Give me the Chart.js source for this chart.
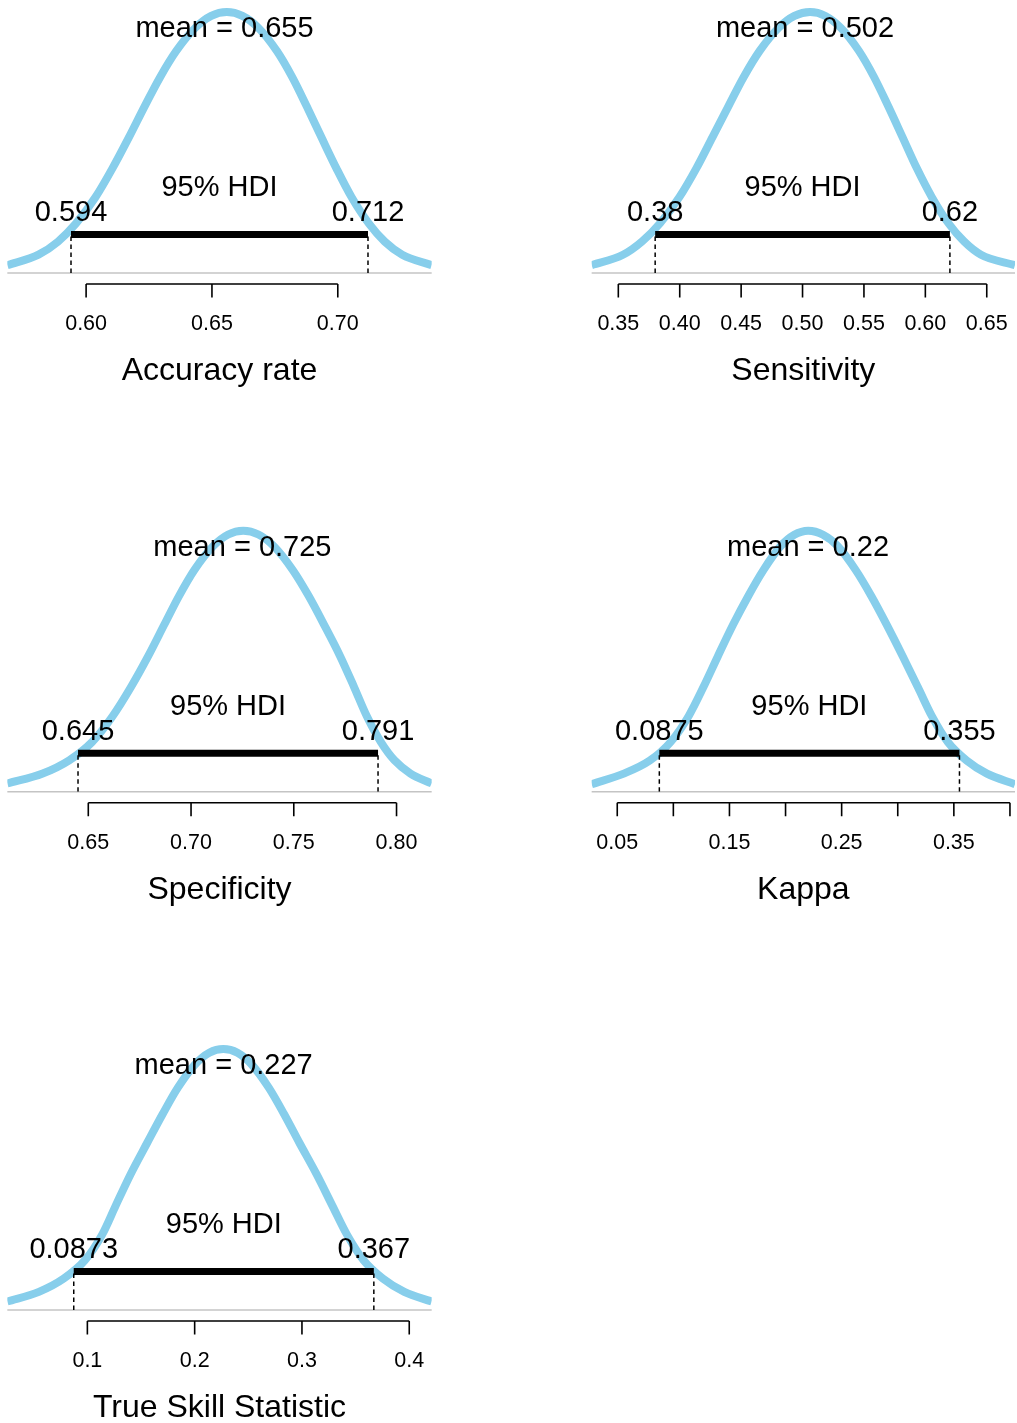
<!DOCTYPE html>
<html>
<head>
<meta charset="utf-8">
<title>Posterior distributions</title>
<script src="https://cdn.jsdelivr.net/npm/chart.js@4.4.1/dist/chart.umd.min.js"></script>
<style>
  body { margin: 0; background: #fff; width: 1017px; height: 1423px; position: relative; overflow: hidden; }
  canvas { position: absolute; }
</style>
</head>
<body>
<canvas id="accuracyChart"></canvas>
<canvas id="sensitivityChart"></canvas>
<canvas id="specificityChart"></canvas>
<canvas id="kappaChart"></canvas>
<canvas id="tssChart"></canvas>
<script>
// Panel order: accuracy, sensitivity, specificity, kappa, TSS
const titles = ['Accuracy rate', 'Sensitivity', 'Specificity', 'Kappa', 'True Skill Statistic'];
const meanValues = [0.655, 0.502, 0.725, 0.22, 0.227];
const meanLabels = ['0.655', '0.502', '0.725', '0.22', '0.227'];
const hdiLow = [0.594, 0.38, 0.645, 0.0875, 0.0873];
const hdiHigh = [0.712, 0.62, 0.791, 0.355, 0.367];
const hdiLowLabels = ['0.594', '0.38', '0.645', '0.0875', '0.0873'];
const hdiHighLabels = ['0.712', '0.62', '0.791', '0.355', '0.367'];

// x-axis ticks
const accuracyTicks = [0.60, 0.65, 0.70];
const accuracyTickLabels = ['0.60', '0.65', '0.70'];
const sensitivityTicks = [0.35, 0.40, 0.45, 0.50, 0.55, 0.60, 0.65];
const sensitivityTickLabels = ['0.35', '0.40', '0.45', '0.50', '0.55', '0.60', '0.65'];
const specificityTicks = [0.65, 0.70, 0.75, 0.80];
const specificityTickLabels = ['0.65', '0.70', '0.75', '0.80'];
const kappaTicks = [0.05, 0.10, 0.15, 0.20, 0.25, 0.30, 0.35, 0.40];
const kappaTickLabels = ['0.05', '', '0.15', '', '0.25', '', '0.35', ''];
const tssTicks = [0.1, 0.2, 0.3, 0.4];
const tssTickLabels = ['0.1', '0.2', '0.3', '0.4'];

// posterior density curves
const accuracyX = [0.5687, 0.5811, 0.5888, 0.5960, 0.6037, 0.6104, 0.6170, 0.6233, 0.6294, 0.6358, 0.6434, 0.6497,
  0.6559, 0.6621, 0.6684, 0.6758, 0.6819, 0.6876, 0.6935, 0.6995, 0.7055, 0.7123, 0.7187, 0.7256, 0.7373];
const accuracyDensity = [0.36, 0.85, 1.45, 2.30, 3.51, 4.84, 6.29, 7.74, 9.08, 10.29, 11.37, 11.92,
  12.10, 11.92, 11.37, 10.29, 9.08, 7.74, 6.29, 4.84, 3.51, 2.30, 1.45, 0.85, 0.36];

const sensitivityX = [0.3283, 0.3538, 0.3693, 0.3840, 0.3997, 0.4134, 0.4267, 0.4397, 0.4521, 0.4651, 0.4806, 0.4934,
  0.5061, 0.5186, 0.5311, 0.5459, 0.5582, 0.5697, 0.5814, 0.5932, 0.6053, 0.6188, 0.6315, 0.6453, 0.6730];
const sensitivityDensity = [0.16, 0.37, 0.64, 1.01, 1.54, 2.12, 2.76, 3.39, 3.98, 4.51, 4.98, 5.22,
  5.30, 5.22, 4.98, 4.51, 3.98, 3.39, 2.76, 2.12, 1.54, 1.01, 0.64, 0.37, 0.16];

const specificityX = [0.6106, 0.6278, 0.6407, 0.6518, 0.6619, 0.6707, 0.6792, 0.6870, 0.6942, 0.7017, 0.7107, 0.7181,
  0.7254, 0.7328, 0.7403, 0.7494, 0.7572, 0.7647, 0.7725, 0.7794, 0.7855, 0.7924, 0.7990, 0.8068, 0.8171];
const specificityDensity = [0.28, 0.62, 1.07, 1.69, 2.58, 3.56, 4.63, 5.70, 6.68, 7.57, 8.37, 8.77,
  8.90, 8.77, 8.37, 7.57, 6.68, 5.70, 4.63, 3.56, 2.58, 1.69, 1.07, 0.62, 0.28];

const kappaX = [0.0272, 0.0558, 0.0790, 0.0976, 0.1137, 0.1267, 0.1397, 0.1533, 0.1668, 0.1804, 0.1955, 0.2078,
  0.2202, 0.2334, 0.2466, 0.2624, 0.2764, 0.2901, 0.3044, 0.3180, 0.3303, 0.3446, 0.3615, 0.3795, 0.4045];
const kappaDensity = [0.15, 0.36, 0.62, 0.99, 1.51, 2.08, 2.70, 3.33, 3.90, 4.42, 4.89, 5.12,
  5.20, 5.12, 4.89, 4.42, 3.90, 3.33, 2.70, 2.08, 1.51, 0.99, 0.62, 0.36, 0.15];

const tssX = [0.0254, 0.0548, 0.0780, 0.0976, 0.1139, 0.1264, 0.1403, 0.1558, 0.1702, 0.1842, 0.2003, 0.2136,
  0.2267, 0.2399, 0.2531, 0.2692, 0.2833, 0.2976, 0.3136, 0.3283, 0.3418, 0.3576, 0.3755, 0.3954, 0.4209];
const tssDensity = [0.16, 0.34, 0.59, 0.93, 1.42, 1.96, 2.55, 3.14, 3.68, 4.17, 4.61, 4.83,
  4.90, 4.83, 4.61, 4.17, 3.68, 3.14, 2.55, 1.96, 1.42, 0.93, 0.59, 0.34, 0.16];

const FONT = "'Liberation Sans', Arial, Helvetica, sans-serif";
Chart.defaults.font.family = FONT;
Chart.defaults.color = '#000';

const PLOT_H = 273;      // baseline to top of plot area
const CANVAS_H = 400;
const AXIS_H = 117.7;    // height Chart.js gives the x axis (labels + title)

// draws gray baseline, R-style axis line/ticks and the mean / HDI texts
function decorPlugin(i, ticks) {
  return {
    id: 'decor' + i,
    beforeDatasetsDraw(chart) {
      const { ctx, chartArea, scales: { y } } = chart;
      const base = y.getPixelForValue(0);
      ctx.save();
      ctx.strokeStyle = '#c4c4c4';
      ctx.lineWidth = 1.6;
      ctx.beginPath();
      ctx.moveTo(chartArea.left, base);
      ctx.lineTo(chartArea.right, base);
      ctx.stroke();
      ctx.restore();
    },
    afterDatasetsDraw(chart) {
      const { ctx, scales: { x, y } } = chart;
      const base = y.getPixelForValue(0);
      ctx.save();
      ctx.fillStyle = '#000';
      ctx.font = '29px ' + FONT;
      ctx.textAlign = 'center';
      ctx.textBaseline = 'middle';
      ctx.fillText('mean = ' + meanLabels[i], x.getPixelForValue(meanValues[i]), base - 244);
      ctx.fillText('95% HDI', x.getPixelForValue((hdiLow[i] + hdiHigh[i]) / 2), base - 85);
      ctx.fillText(hdiLowLabels[i], x.getPixelForValue(hdiLow[i]), base - 60);
      ctx.fillText(hdiHighLabels[i], x.getPixelForValue(hdiHigh[i]), base - 60);

      ctx.strokeStyle = '#000';
      ctx.lineWidth = 1.6;
      ctx.beginPath();
      ctx.moveTo(x.getPixelForValue(ticks[0]), base + 11);
      ctx.lineTo(x.getPixelForValue(ticks[ticks.length - 1]), base + 11);
      ticks.forEach(t => {
        const px = x.getPixelForValue(t);
        ctx.moveTo(px, base + 11);
        ctx.lineTo(px, base + 24.5);
      });
      ctx.stroke();
      ctx.restore();
    }
  };
}

function makePanel(i, canvasId, xs, dens, ticks, tickLabels, box) {
  const canvas = document.getElementById(canvasId);
  canvas.width = box.w;
  canvas.height = CANVAS_H;
  canvas.style.left = box.left + 'px';
  canvas.style.top = box.top + 'px';

  const yMax = Math.max(...dens) * PLOT_H / 261;
  const barY = yMax * 38.5 / PLOT_H;

  new Chart(canvas, {
    type: 'line',
    data: {
      datasets: [
        {
          data: [{ x: hdiLow[i], y: barY }, { x: hdiHigh[i], y: barY }],
          borderColor: '#000', borderWidth: 7, borderCapStyle: 'butt'
        },
        {
          data: [{ x: hdiLow[i], y: 0 }, { x: hdiLow[i], y: barY }],
          borderColor: '#000', borderWidth: 1.5, borderDash: [4.5, 3.5]
        },
        {
          data: [{ x: hdiHigh[i], y: 0 }, { x: hdiHigh[i], y: barY }],
          borderColor: '#000', borderWidth: 1.5, borderDash: [4.5, 3.5]
        },
        {
          data: xs.map((v, k) => ({ x: v, y: dens[k] })),
          borderColor: '#87CEEB', borderWidth: 8, cubicInterpolationMode: 'monotone', borderJoinStyle: 'round'
        }
      ]
    },
    options: {
      responsive: false,
      animation: false,
      devicePixelRatio: 1,
      elements: { point: { radius: 0 } },
      layout: {
        padding: {
          left: box.padL, right: box.padR, top: box.padT,
          bottom: CANVAS_H - box.padT - PLOT_H - AXIS_H
        }
      },
      plugins: { legend: { display: false }, tooltip: { enabled: false } },
      scales: {
        x: {
          type: 'linear',
          min: xs[0],
          max: xs[xs.length - 1],
          grid: { display: false, drawTicks: false },
          border: { display: false },
          afterBuildTicks: scale => { scale.ticks = ticks.map(v => ({ value: v })); },
          ticks: {
            autoSkip: false,
            maxRotation: 0,
            padding: 3,
            color: '#000',
            font: { size: 21.5, lineHeight: '96px' },
            callback: (v, k) => tickLabels[k]
          },
          title: {
            display: true,
            text: titles[i],
            color: '#000',
            font: { size: 32 },
            padding: { top: -22.7, bottom: 0 }
          }
        },
        y: { display: false, min: 0, max: yMax }
      }
    },
    plugins: [decorPlugin(i, ticks)]
  });
}

const leftCol = { left: 0, w: 440, padL: 7.33, padR: 8.33 };
const rightCol = { left: 580, w: 437, padL: 11.67, padR: 2 };

makePanel(0, 'accuracyChart', accuracyX, accuracyDensity, accuracyTicks, accuracyTickLabels,
  { ...leftCol, top: 0, padT: 0 });
makePanel(1, 'sensitivityChart', sensitivityX, sensitivityDensity, sensitivityTicks, sensitivityTickLabels,
  { ...rightCol, top: 0, padT: 0 });
makePanel(2, 'specificityChart', specificityX, specificityDensity, specificityTicks, specificityTickLabels,
  { ...leftCol, top: 518, padT: 0.7 });
makePanel(3, 'kappaChart', kappaX, kappaDensity, kappaTicks, kappaTickLabels,
  { ...rightCol, top: 518, padT: 0.7 });
makePanel(4, 'tssChart', tssX, tssDensity, tssTicks, tssTickLabels,
  { ...leftCol, top: 1037, padT: 0 });
</script>
</body>
</html>
